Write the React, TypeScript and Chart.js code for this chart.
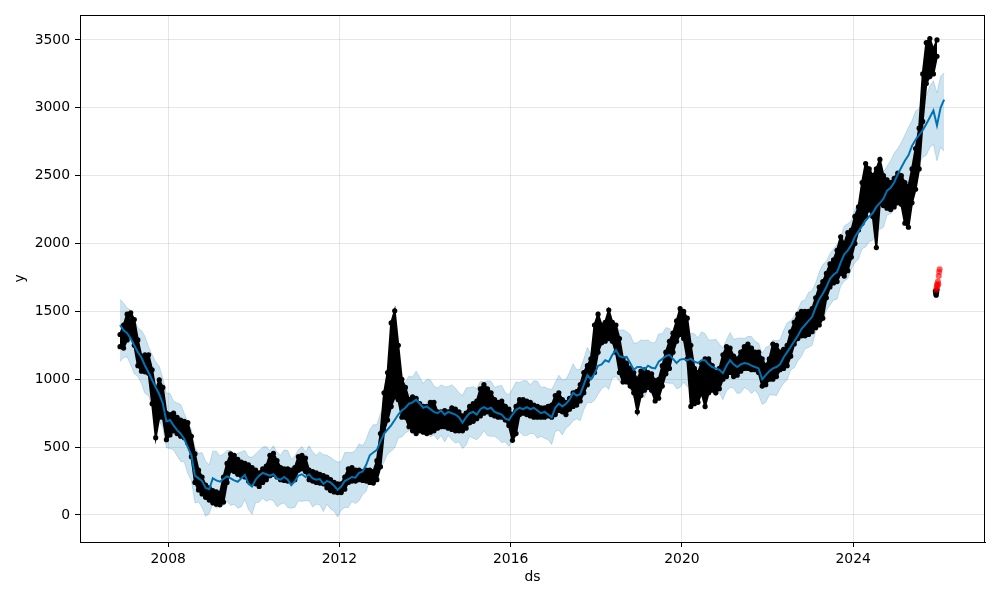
import React, { useEffect, useRef } from "react";
import { Chart, registerables } from "chart.js";

Chart.register(...registerables);

// Monthly grid: first point mid-Nov 2006, step one month
const START_YEAR = 2006.875;
const STEP = 1 / 12;

// Forecast yhat (Nov 2006 .. Feb 2026)
const yhat = [
  1400, 1360, 1340, 1300, 1250, 1200, 1160, 1100, 1050, 995, 940, 890, 820, 690,
  700, 660, 625, 600, 560, 500, 440, 290, 270, 250, 200, 190,
  270, 255, 245, 265, 285, 270, 255, 245, 270, 295, 230, 210,
  260, 290, 310, 300, 290, 300, 270, 260, 280, 260, 220, 250,
  290, 300, 280, 300, 270, 260, 265, 230, 250, 240, 215, 185,
  210, 250, 265, 280, 275, 310, 320, 370, 440, 460, 480, 540,
  600, 630, 660, 700, 740, 770, 790, 820, 830, 850, 820, 790,
  800, 780, 760, 750, 770, 740, 760, 750, 740, 720, 680, 720,
  750, 760, 740, 780, 795, 780, 790, 760, 750, 740, 710, 700,
  740, 775, 790, 780, 795, 780, 790, 770, 750, 760, 740, 720,
  790, 820, 800, 820, 850, 900, 880, 890, 960, 1030, 1000, 1040,
  1100, 1110, 1140, 1130, 1180, 1215, 1170, 1160, 1165, 1120, 1070, 1090,
  1090, 1070, 1100, 1085, 1080, 1130, 1150, 1170, 1180, 1150, 1120, 1145,
  1150, 1140, 1150, 1130, 1120, 1140, 1140, 1110, 1090, 1080, 1070, 1045,
  1100, 1140, 1110, 1090, 1110, 1120, 1115, 1100, 1090, 1080, 1000, 1030,
  1060, 1080, 1090, 1110, 1160, 1200, 1240, 1280, 1320, 1370, 1400, 1430,
  1460, 1530, 1590, 1630, 1680, 1740, 1770, 1790, 1860, 1920, 1950, 1990,
  2050, 2090, 2130, 2170, 2200, 2225, 2270, 2300, 2330, 2390, 2410, 2450,
  2510, 2560, 2610, 2650, 2720, 2765, 2800, 2835, 2880, 2930, 2980, 2870,
  3000, 3060,
];

const yhatUpper = [
  1590, 1560, 1525, 1510, 1445, 1380, 1360, 1315, 1240, 1180, 1130, 1095, 1005, 900,
  895, 840, 825, 815, 750, 685, 630, 495, 455, 460, 395, 370,
  470, 470, 435, 450, 475, 475, 440, 455, 465, 475, 430, 425,
  450, 475, 500, 505, 475, 510, 465, 440, 480, 475, 410, 435,
  480, 505, 465, 510, 465, 440, 465, 445, 440, 425, 405, 390,
  395, 460, 460, 460, 475, 525, 510, 555, 630, 665, 665, 750,
  795, 810, 860, 915, 930, 955, 980, 1025, 1015, 1060, 1015, 970,
  1000, 995, 950, 935, 960, 945, 945, 960, 935, 900, 880, 935,
  940, 945, 930, 985, 980, 990, 985, 940, 950, 955, 900, 885,
  930, 980, 975, 990, 990, 960, 990, 985, 940, 945, 930, 925,
  975, 1030, 995, 1000, 1050, 1115, 1070, 1075, 1150, 1235, 1185, 1250,
  1295, 1290, 1340, 1345, 1370, 1400, 1360, 1365, 1350, 1330, 1265, 1270,
  1290, 1285, 1290, 1270, 1270, 1335, 1335, 1380, 1375, 1330, 1320, 1360,
  1340, 1325, 1340, 1335, 1305, 1350, 1335, 1290, 1290, 1295, 1260, 1230,
  1290, 1345, 1295, 1300, 1305, 1300, 1315, 1315, 1280, 1265, 1190, 1235,
  1245, 1290, 1285, 1290, 1360, 1415, 1430, 1465, 1510, 1575, 1585, 1640,
  1655, 1710, 1790, 1845, 1870, 1925, 1960, 1995, 2045, 2130, 2145, 2170,
  2250, 2305, 2320, 2355, 2390, 2430, 2455, 2510, 2525, 2570, 2610, 2665,
  2700, 2745, 2800, 2855, 2905, 2975, 2995, 3055, 3090, 3160, 3200, 3110,
  3230, 3260,
];

const yhatLower = [
  1130, 1160, 1165, 1105, 1040, 1020, 970, 895, 880, 800, 755, 690, 645, 495,
  490, 480, 435, 395, 390, 305, 255, 90, 95, 55, -10, 10,
  80, 50, 75, 70, 100, 70, 80, 50, 60, 115, 40, 5,
  90, 95, 125, 100, 115, 105, 60, 80, 90, 55, 50, 55,
  105, 100, 105, 105, 60, 80, 75, 25, 80, 45, 30, -15,
  35, 55, 55, 100, 85, 105, 150, 175, 255, 260, 305, 345,
  390, 450, 470, 495, 570, 575, 605, 620, 655, 655, 610, 610,
  610, 575, 590, 555, 585, 540, 585, 555, 530, 540, 490, 515,
  580, 565, 555, 580, 620, 585, 580, 580, 560, 535, 540, 505,
  555, 575, 615, 585, 585, 600, 600, 565, 580, 565, 555, 520,
  615, 625, 590, 640, 660, 695, 710, 695, 775, 830, 825, 845,
  890, 930, 950, 925, 1010, 1020, 985, 960, 990, 925, 860, 910,
  900, 865, 930, 890, 895, 930, 975, 975, 970, 970, 930, 940,
  980, 945, 965, 930, 945, 945, 930, 930, 900, 875, 900, 850,
  915, 940, 935, 895, 900, 940, 925, 895, 920, 885, 815, 830,
  885, 885, 880, 930, 970, 995, 1070, 1085, 1135, 1170, 1225, 1235,
  1250, 1350, 1400, 1425, 1510, 1545, 1585, 1590, 1685, 1725, 1740, 1810,
  1860, 1885, 1960, 1975, 2015, 2025, 2095, 2105, 2120, 2210, 2220, 2245,
  2340, 2365, 2425, 2450, 2545, 2570, 2590, 2635, 2650, 2710, 2730, 2610,
  2710, 2680,
];

// Observed data: monthly high / low of the daily points (Nov 2006 .. Dec 2025)
const observedHigh = [
  1330, 1400,
  1480, 1490, 1440, 1290, 1170, 1180, 1180, 1070, 920, 995, 940, 750,
  740, 750, 720, 700, 690, 680, 580, 450, 330, 280, 220, 200,
  180, 170, 160, 280, 380, 450, 440, 410, 390, 380, 370, 350,
  330, 310, 340, 360, 440, 455, 400, 350, 340, 340, 330, 350,
  430, 440, 420, 330, 320, 310, 300, 290, 280, 260, 240, 230,
  230, 280, 340, 350, 330, 330, 320, 330, 330, 320, 400, 600,
  900, 1050, 1415, 1505, 1250, 1000, 940, 850, 870, 860, 820, 800,
  800, 830, 830, 760, 760, 770, 760, 790, 780, 760, 730, 750,
  800, 820, 840, 930, 960, 930, 900, 850, 830, 840, 800, 780,
  740, 800, 850, 850, 840, 830, 810, 800, 790, 790, 800, 810,
  880, 900, 850, 830, 860, 900, 910, 960, 1050, 1100, 1150, 1400,
  1480, 1400, 1420, 1510, 1420, 1400, 1300, 1150, 1120, 1080, 1050, 1000,
  1060, 1070, 1050, 1040, 990, 1000, 1100, 1200, 1280, 1340, 1430, 1520,
  1500, 1450, 1250, 1080, 1050, 1120, 1150, 1150, 1100, 1050, 1080, 1180,
  1240, 1230, 1170, 1150, 1200, 1240, 1260, 1230, 1200, 1200, 1150, 1100,
  1150, 1260, 1250, 1200, 1220, 1250, 1350, 1420, 1480, 1500, 1500, 1500,
  1520, 1600, 1680, 1720, 1780, 1850, 1880, 1950, 2050, 2000, 2080, 2100,
  2200, 2270, 2450, 2590, 2550, 2500, 2550, 2620, 2500, 2470, 2450, 2480,
  2520, 2500, 2450, 2420, 2550, 2700, 2850, 3250, 3480, 3510, 3430, 3500,
];

const observedLow = [
  1240, 1230,
  1290, 1330, 1250, 1100, 1060, 1055, 1045, 820, 570, 720, 720, 555,
  590, 620, 600, 580, 570, 530, 430, 240, 185, 155, 130, 110,
  90, 80, 75, 95, 240, 330, 320, 300, 290, 280, 250, 240,
  230, 210, 240, 260, 290, 300, 280, 260, 255, 250, 250, 260,
  330, 340, 320, 260, 250, 240, 235, 230, 200, 180, 170, 165,
  165, 190, 240, 250, 250, 260, 255, 250, 240, 235, 260, 355,
  620, 700, 800, 870, 850, 720, 720, 650, 620, 600, 620, 610,
  600, 610, 620, 640, 650, 650, 640, 630, 620, 620, 620, 640,
  680, 690, 710, 730, 750, 760, 740, 730, 720, 720, 700, 660,
  550, 600, 740, 750, 740, 730, 720, 720, 720, 720, 730, 720,
  740, 770, 760, 740, 780, 800, 810, 840, 900, 960, 1020, 1050,
  1200, 1270, 1280, 1300, 1280, 1200, 1050, 980, 980, 950, 900, 760,
  880, 920, 940, 920, 840, 860, 950, 1040, 1080, 1200, 1280, 1330,
  1300, 1150, 800, 820, 830, 900, 800, 900, 920, 900, 930, 1000,
  1020, 1050, 1020, 1030, 1060, 1080, 1080, 1070, 1070, 1050, 950, 960,
  1000, 1000, 1020, 1070, 1080, 1100, 1170, 1260, 1300, 1320, 1320, 1330,
  1350, 1380, 1400, 1450, 1600, 1680, 1710, 1720, 1780, 1760, 1800, 1900,
  2000, 2100, 2150, 2200, 2250, 2200, 1970, 2300, 2280, 2260, 2250, 2270,
  2300, 2290, 2150, 2120, 2300, 2400, 2550, 2900, 3180, 3230, 3250, 3380,
];

// Last observed points after the drop (black) and recent points (red)
const lastObsDates = [2025.92, 2025.93, 2025.94, 2025.95, 2025.96];
const lastObsValues = [1650, 1630, 1620, 1640, 1660];
const recentDates = [2025.94, 2025.95, 2025.96, 2025.97, 2025.98, 2025.99, 2026.0, 2026.01, 2026.02];
const recentValues = [1660, 1680, 1700, 1690, 1720, 1700, 1760, 1790, 1810];

const xTicks = [2008, 2012, 2016, 2020, 2024];
const yTicks = [0, 500, 1000, 1500, 2000, 2500, 3000, 3500];

const FONT = "'DejaVu Sans', sans-serif";

const monthly = (arr: number[]) => arr.map((v, i) => ({ x: START_YEAR + i * STEP, y: v }));
const paired = (xs: number[], ys: number[]) => xs.map((x, i) => ({ x, y: ys[i] }));

const framePlugin = {
  id: "frame",
  afterDraw(chart: any) {
    const { ctx, chartArea } = chart;
    const { left, right, top, bottom } = chartArea;
    ctx.save();
    ctx.strokeStyle = "#000";
    ctx.lineWidth = 1;
    ctx.strokeRect(Math.round(left) + 0.5, Math.round(top) + 0.5, Math.round(right - left) - 1, Math.round(bottom - top));
    ctx.fillStyle = "#000";
    ctx.font = `13.9px ${FONT}`;
    ctx.textAlign = "center";
    ctx.textBaseline = "middle";
    ctx.fillText("ds", (left + right) / 2, 577);
    ctx.translate(20, (top + bottom) / 2);
    ctx.rotate(-Math.PI / 2);
    ctx.fillText("y", 0, 0);
    ctx.restore();
  },
};

export default function App() {
  const ref = useRef<HTMLCanvasElement | null>(null);

  useEffect(() => {
    document.body.style.margin = "0";
    const canvas = ref.current;
    if (!canvas) return;
    const band = "rgba(0,114,178,0.2)";
    const chart = new Chart(canvas, {
      type: "line",
      data: {
        datasets: [
          {
            label: "recent",
            data: paired(recentDates, recentValues),
            showLine: false,
            pointRadius: 3,
            pointBorderWidth: 0,
            pointBackgroundColor: "rgba(255,0,0,0.65)",
            borderColor: "rgba(255,0,0,0.65)",
          },
          {
            label: "last observed",
            data: paired(lastObsDates, lastObsValues),
            showLine: false,
            pointRadius: 2.6,
            pointBorderWidth: 0,
            pointBackgroundColor: "#000",
            borderColor: "#000",
          },
          {
            label: "yhat",
            data: monthly(yhat),
            borderColor: "#0072B2",
            borderWidth: 2,
            pointRadius: 0,
            fill: false,
            tension: 0,
          },
          {
            label: "observed high",
            data: monthly(observedHigh),
            borderColor: "#000",
            borderWidth: 2,
            pointRadius: 2.6,
            pointBorderWidth: 0,
            pointBackgroundColor: "#000",
            fill: "+1",
            backgroundColor: "#000",
            tension: 0,
          },
          {
            label: "observed low",
            data: monthly(observedLow),
            borderColor: "#000",
            borderWidth: 2,
            pointRadius: 2.6,
            pointBorderWidth: 0,
            pointBackgroundColor: "#000",
            fill: false,
            tension: 0,
          },
          {
            label: "upper",
            data: monthly(yhatUpper),
            borderColor: band,
            borderWidth: 1,
            pointRadius: 0,
            fill: "+1",
            backgroundColor: band,
            tension: 0,
          },
          {
            label: "lower",
            data: monthly(yhatLower),
            borderColor: band,
            borderWidth: 1,
            pointRadius: 0,
            fill: false,
            tension: 0,
          },
        ],
      },
      options: {
        responsive: false,
        animation: false,
        devicePixelRatio: 1,
        layout: { padding: { left: 0, right: 15, top: 15, bottom: 0 } },
        plugins: { legend: { display: false }, tooltip: { enabled: false } },
        scales: {
          x: {
            type: "linear",
            min: 2005.94,
            max: 2027.08,
            afterFit: (s: any) => {
              s.height = 58;
            },
            afterBuildTicks: (s: any) => {
              s.ticks = xTicks.map((v) => ({ value: v }));
            },
            ticks: {
              callback: (v: any) => String(v),
              color: "#000",
              font: { family: FONT, size: 13.9 },
              padding: 4,
              maxRotation: 0,
              autoSkip: false,
            },
            grid: {
              color: "rgba(128,128,128,0.2)",
              lineWidth: 1,
              tickLength: 5,
              tickColor: "#000",
            },
            border: { display: true, color: "#000", width: 1 },
          },
          y: {
            type: "linear",
            min: -199,
            max: 3684,
            afterFit: (s: any) => {
              s.width = 80;
            },
            afterBuildTicks: (s: any) => {
              s.ticks = yTicks.map((v) => ({ value: v }));
            },
            ticks: {
              callback: (v: any) => String(v),
              color: "#000",
              font: { family: FONT, size: 13.9 },
              padding: 5,
              autoSkip: false,
            },
            grid: {
              color: "rgba(128,128,128,0.2)",
              lineWidth: 1,
              tickLength: 5,
              tickColor: "#000",
            },
            border: { display: true, color: "#000", width: 1 },
          },
        },
      },
      plugins: [framePlugin],
    } as any);
    return () => chart.destroy();
  }, []);

  return (
    <div style={{ position: "fixed", left: 0, top: 0, width: 1000, height: 600, background: "#fff" }}>
      <canvas ref={ref} width={1000} height={600} style={{ display: "block" }} />
    </div>
  );
}
